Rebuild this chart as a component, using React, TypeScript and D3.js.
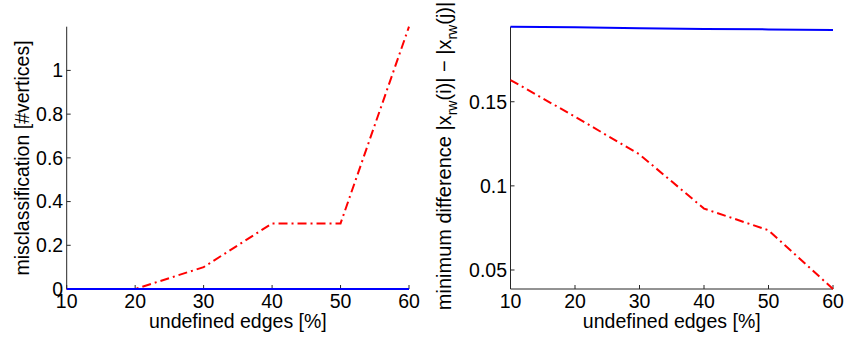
import * as d3 from "d3"

// shared x values (undefined edges, %)
const edges = [10, 20, 30, 40, 50, 60]

// left panel: misclassification [#vertices]
const missSolid = [0, 0, 0, 0, 0, 0]
const missDashDot = [0, 0, 0.1, 0.3, 0.3, 1.2]
const missTicks = [0, 0.2, 0.4, 0.6, 0.8, 1]

// right panel: minimum difference
const diffSolid = [0.1946, 0.1942, 0.1937, 0.1933, 0.1930, 0.1926]
const diffDashDot = [0.1629, 0.1411, 0.1187, 0.0865, 0.0736, 0.0387]
const diffTicks = [0.05, 0.1, 0.15]

const FONT = "'Liberation Sans', Arial, Helvetica, sans-serif"
const FS = 19.5
const TOP = 26.7
const BOTTOM = 289
const fmt = d3.format("~g")

function Panel({ left, right, ySolid, yDash, yDomain, yTicks }: {
  left: number
  right: number
  ySolid: number[]
  yDash: number[]
  yDomain: [number, number]
  yTicks: number[]
}) {
  const x = d3.scaleLinear().domain([10, 60]).range([left, right])
  const y = d3.scaleLinear().domain(yDomain).range([BOTTOM, TOP])
  const line = d3
    .line<number>()
    .x((_, i) => x(edges[i]))
    .y((d) => y(d))

  return (
    <g fontFamily={FONT} fontSize={FS} fill="#000">
      {/* axes */}
      <line x1={left} x2={left} y1={TOP} y2={BOTTOM} stroke="#262626" strokeWidth={1} />
      <line x1={left} x2={right} y1={BOTTOM} y2={BOTTOM} stroke="#262626" strokeWidth={1} />
      {edges.map((t) => (
        <g key={"x" + t}>
          <line x1={x(t)} x2={x(t)} y1={BOTTOM} y2={BOTTOM - 4} stroke="#262626" />
          <text x={x(t)} y={308} textAnchor="middle">{t}</text>
        </g>
      ))}
      {yTicks.map((t) => (
        <g key={"y" + t}>
          <line x1={left} x2={left + 4} y1={y(t)} y2={y(t)} stroke="#262626" />
          <text x={left - 3.5} y={y(t)} dy="0.35em" textAnchor="end">{fmt(t)}</text>
        </g>
      ))}
      <text x={(left + right) / 2} y={328} textAnchor="middle">undefined edges [%]</text>
      {/* series */}
      <path d={line(yDash) ?? ""} fill="none" stroke="#ff0000" strokeWidth={2} strokeDasharray="9,4,2,4" />
      <path d={line(ySolid) ?? ""} fill="none" stroke="#0000ff" strokeWidth={2} />
    </g>
  )
}

export default function App() {
  const rightExtent = d3.extent([...diffSolid, ...diffDashDot]) as [number, number]
  return (
    <svg width={844} height={339} style={{ position: "absolute", left: 0, top: 0, background: "#fff" }}>
      <Panel left={66.7} right={409} ySolid={missSolid} yDash={missDashDot} yDomain={[0, 1.2]} yTicks={missTicks} />
      <Panel left={510.5} right={833} ySolid={diffSolid} yDash={diffDashDot} yDomain={rightExtent} yTicks={diffTicks} />
      <text transform="translate(28.5,158) rotate(-90)" textAnchor="middle" fontFamily={FONT} fontSize={FS}>
        misclassification [#vertices]
      </text>
      <text transform="translate(451,156) rotate(-90)" textAnchor="middle" fontFamily={FONT} fontSize={20}>
        minimum difference |x<tspan fontSize={14} dy={6}>rw</tspan><tspan dy={-6}>(i)| − |x</tspan>
        <tspan fontSize={14} dy={6}>rw</tspan><tspan dy={-6}>(j)|</tspan>
      </text>
    </svg>
  )
}
